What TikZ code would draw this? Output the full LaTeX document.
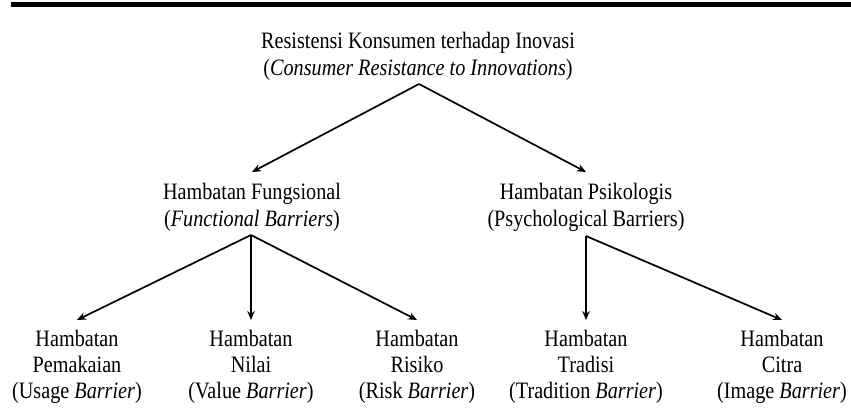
\documentclass[tikz,border=0pt]{standalone}
\usepackage{fontspec}
\setmainfont{Liberation Serif}[FakeStretch=0.86]
\usetikzlibrary{arrows.meta}
\begin{document}
\begin{tikzpicture}[x=1pt,y=-1pt,
  lbl/.style={align=center,inner xsep=0pt,anchor=north,
    font=\fontsize{23.5}{26.5}\selectfont},
  toplbl/.style={lbl,inner ysep=0pt},
  midlbl/.style={lbl,inner ysep=11pt},
  botlbl/.style={lbl,inner ysep=10pt,font=\fontsize{23.5}{26}\selectfont},
  arr/.style={line width=1.7pt,-{Stealth[length=9pt,width=7.5pt]}}]
\useasboundingbox (0,0) rectangle (851,416);
\fill[white] (0,0) rectangle (851,416);
\fill[black] (11,2.4) rectangle (851,6.6);
% nodes
\node[toplbl] (root) at (418,32) {Resistensi Konsumen terhadap Inovasi\\(\textit{Consumer Resistance to Innovations})};
\node[midlbl] (fun) at (252,172) {Hambatan Fungsional\\(\textit{Functional Barriers})};
\node[midlbl] (psy) at (586,172) {Hambatan Psikologis\\(Psychological Barriers)};
\node[botlbl] (usage) at (77,320) {Hambatan\\Pemakaian\\(Usage \textit{Barrier})};
\node[botlbl] (value) at (251,320) {Hambatan\\Nilai\\(Value \textit{Barrier})};
\node[botlbl] (risk) at (417,320) {Hambatan\\Risiko\\(Risk \textit{Barrier})};
\node[botlbl] (trad) at (586,320) {Hambatan\\Tradisi\\(Tradition \textit{Barrier})};
\node[botlbl] (image) at (782,320) {Hambatan\\Citra\\(Image \textit{Barrier})};
% apex coordinates
\coordinate (rootapex) at (419,84);
\coordinate (funapex) at (251,235);
\coordinate (psyapex) at (586,236);
% connectors
\draw[arr] (rootapex) -- (fun.north);
\draw[arr] (rootapex) -- (psy.north);
\draw[arr] (funapex) -- (usage.north);
\draw[arr] (funapex) -- (value.north);
\draw[arr] (funapex) -- (risk.north);
\draw[arr] (psyapex) -- (trad.north);
\draw[arr] (psyapex) -- (image.north);
\end{tikzpicture}
\end{document}
